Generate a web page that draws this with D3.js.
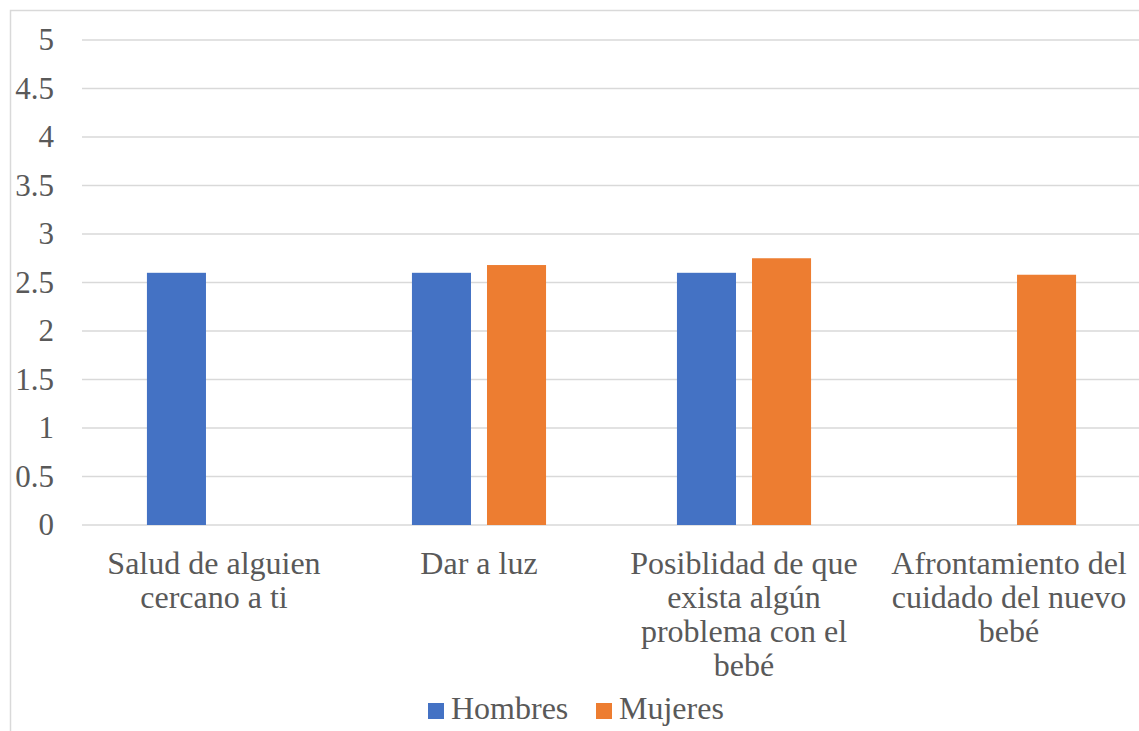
<!DOCTYPE html>
<html>
<head>
<meta charset="utf-8">
<script src="https://cdn.jsdelivr.net/npm/d3@7"></script>
<style>
  body { margin: 0; background: #fff; }
</style>
</head>
<body>
<svg id="chart" width="1139" height="731"></svg>
<script>
const categories = [
  ['Salud de alguien', 'cercano a ti'],
  ['Dar a luz'],
  ['Posiblidad de que', 'exista algún', 'problema con el', 'bebé'],
  ['Afrontamiento del', 'cuidado del nuevo', 'bebé']
];
const seriesNames = ['Hombres', 'Mujeres'];
const hombres = [2.6, 2.6, 2.6, null];
const mujeres = [null, 2.68, 2.75, 2.58];
const yTicks = [0, 0.5, 1, 1.5, 2, 2.5, 3, 3.5, 4, 4.5, 5];
const colors = ['#4472c4', '#ed7d31'];

const svg = d3.select('#chart');
const margin = { left: 82, right: 1141, top: 40, bottom: 525 };
const font = '"Liberation Serif"';
const textColor = '#595959';

// chart area border (cut off at right and bottom like the source)
svg.append('rect')
  .attr('x', 10.5).attr('y', 10.5)
  .attr('width', 1200).attr('height', 800)
  .attr('fill', 'none')
  .attr('stroke', '#d9d9d9')
  .attr('stroke-width', 1.5);

const x0 = d3.scaleBand()
  .domain(d3.range(categories.length))
  .range([margin.left, margin.right])
  .paddingInner(0.494)
  .paddingOuter(0.245);

const x1 = d3.scaleBand()
  .domain(seriesNames)
  .range([0, x0.bandwidth()])
  .paddingInner(0.2133);

const y = d3.scaleLinear().domain([0, 5]).range([margin.bottom, margin.top]);

// gridlines
svg.append('g')
  .selectAll('line')
  .data(yTicks)
  .join('line')
  .attr('x1', margin.left).attr('x2', 1139)
  .attr('y1', d => y(d)).attr('y2', d => y(d))
  .attr('stroke', '#d9d9d9')
  .attr('stroke-width', 1.5);

// y labels
svg.append('g')
  .selectAll('text')
  .data(yTicks)
  .join('text')
  .attr('x', 54)
  .attr('y', d => y(d))
  .attr('dy', '0.33em')
  .attr('text-anchor', 'end')
  .attr('fill', textColor)
  .style('font-family', font)
  .style('font-size', '31px')
  .text(d => d);

// bars
const rows = categories.map((c, i) => [
  { s: 'Hombres', v: hombres[i], c: colors[0] },
  { s: 'Mujeres', v: mujeres[i], c: colors[1] }
]);

svg.append('g')
  .selectAll('g')
  .data(rows)
  .join('g')
  .attr('transform', (d, i) => `translate(${x0(i)},0)`)
  .selectAll('rect')
  .data(d => d.filter(e => e.v != null))
  .join('rect')
  .attr('x', d => x1(d.s))
  .attr('width', x1.bandwidth())
  .attr('y', d => y(d.v))
  .attr('height', d => y(0) - y(d.v))
  .attr('fill', d => d.c);

// category labels
svg.append('g')
  .selectAll('text')
  .data(categories)
  .join('text')
  .attr('x', (d, i) => x0(i) + x0.bandwidth() / 2)
  .attr('y', 574)
  .attr('text-anchor', 'middle')
  .attr('fill', textColor)
  .style('font-family', font)
  .style('font-size', '32px')
  .selectAll('tspan')
  .data(d => d)
  .join('tspan')
  .attr('x', function() { return this.parentNode.getAttribute('x'); })
  .attr('dy', (d, i) => i === 0 ? 0 : 34)
  .text(d => d);

// legend
const legend = svg.append('g')
  .selectAll('g')
  .data(seriesNames)
  .join('g')
  .attr('transform', (d, i) => `translate(${[428, 596][i]},703)`);

legend.append('rect')
  .attr('width', 16).attr('height', 16)
  .attr('fill', (d, i) => colors[i]);

legend.append('text')
  .attr('x', 23).attr('y', 16)
  .attr('fill', textColor)
  .style('font-family', font)
  .style('font-size', '32px')
  .text(d => d);
</script>
</body>
</html>
